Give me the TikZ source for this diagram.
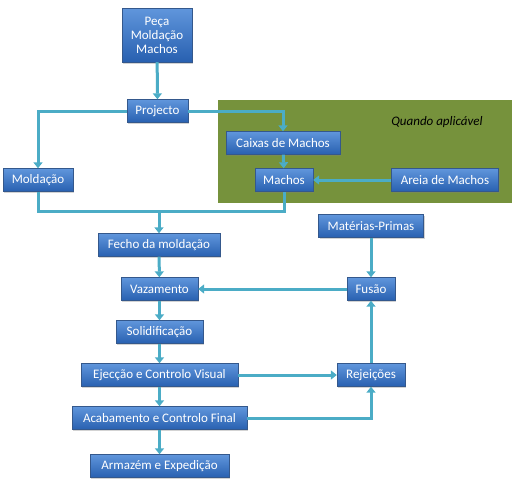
\documentclass[tikz,border=0pt]{standalone}
\usepackage{fontspec}
\setmainfont{Carlito}
\usetikzlibrary{arrows.meta,shadows}
\definecolor{caixatopo}{RGB}{96,150,220}
\definecolor{caixabase}{RGB}{40,96,176}
\definecolor{caixaborda}{RGB}{52,88,140}
\definecolor{linha}{RGB}{75,172,198}
\definecolor{verde}{RGB}{118,146,60}
\tikzset{
  etapa/.style={rectangle,draw=caixaborda,top color=caixatopo,bottom color=caixabase,
    text=white,minimum height=23pt,inner sep=1pt,font=\fontsize{13}{14}\selectfont,
    drop shadow={opacity=0.35,shadow xshift=1pt,shadow yshift=-1.5pt}},
  ligacao/.style={draw=linha,line width=3pt},
  fluxo/.style={ligacao,-{Triangle[length=6pt,width=9pt]}},
}
\begin{document}
\begin{tikzpicture}[x=1pt,y=-1pt]
  \useasboundingbox (0,0) rectangle (514,485);
  % zona dos machos
  \fill[verde] (218,100) rectangle (512,203);
  \node[font=\fontsize{13}{14}\selectfont\itshape] (aplicavel) at (437,122) {Quando aplicável};
  % etapas
  \node[etapa,minimum width=70pt,minimum height=54pt,align=center] (peca) at (157,35) {Peça\\Moldação\\Machos};
  \node[etapa,minimum width=61pt] (projecto) at (157.5,111) {Projecto};
  \node[etapa,minimum width=70pt] (moldacao) at (38,180) {Moldação};
  \node[etapa,minimum width=114pt] (caixas) at (283,143) {Caixas de Machos};
  \node[etapa,minimum width=58pt] (machos) at (284,180) {Machos};
  \node[etapa,minimum width=107pt] (areia) at (445,180) {Areia de Machos};
  \node[etapa,minimum width=122pt] (fecho) at (159,245) {Fecho da moldação};
  \node[etapa,minimum width=77pt] (vazamento) at (159.5,289) {Vazamento};
  \node[etapa,minimum width=87pt] (solidificacao) at (159.5,332) {Solidificação};
  \node[etapa,minimum width=157pt] (ejeccao) at (159.5,375) {Ejecção e Controlo Visual};
  \node[etapa,minimum width=175pt] (acabamento) at (159.5,418) {Acabamento e Controlo Final};
  \node[etapa,minimum width=139pt] (armazem) at (159.5,466) {Armazém e Expedição};
  \node[etapa,minimum width=105pt] (materias) at (371,226) {Matérias-Primas};
  \node[etapa,minimum width=48pt] (fusao) at (371,289) {Fusão};
  \node[etapa,minimum width=68pt] (rejeicoes) at (371,375) {Rejeições};
  \coordinate (juncao) at (159,211);
  % ligacoes
  \draw[fluxo] (peca) -- (projecto);
  \draw[fluxo] (projecto.west) -| (moldacao.north);
  \draw[fluxo] (projecto.east) -| (caixas.north);
  \draw[fluxo] (caixas) -- (machos);
  \draw[fluxo] (areia) -- (machos);
  \draw[ligacao] (moldacao.south) |- (juncao) -| (machos.south);
  \draw[fluxo] (juncao) -- (fecho.north);
  \draw[fluxo] (fecho) -- (vazamento);
  \draw[fluxo] (vazamento) -- (solidificacao);
  \draw[fluxo] (solidificacao) -- (ejeccao);
  \draw[fluxo] (ejeccao) -- (acabamento);
  \draw[fluxo] (acabamento) -- (armazem);
  \draw[fluxo] (materias) -- (fusao);
  \draw[fluxo] (fusao) -- (vazamento);
  \draw[fluxo] (ejeccao) -- (rejeicoes);
  \draw[fluxo] (acabamento.east) -| (rejeicoes.south);
  \draw[fluxo] (rejeicoes) -- (fusao);
\end{tikzpicture}
\end{document}
